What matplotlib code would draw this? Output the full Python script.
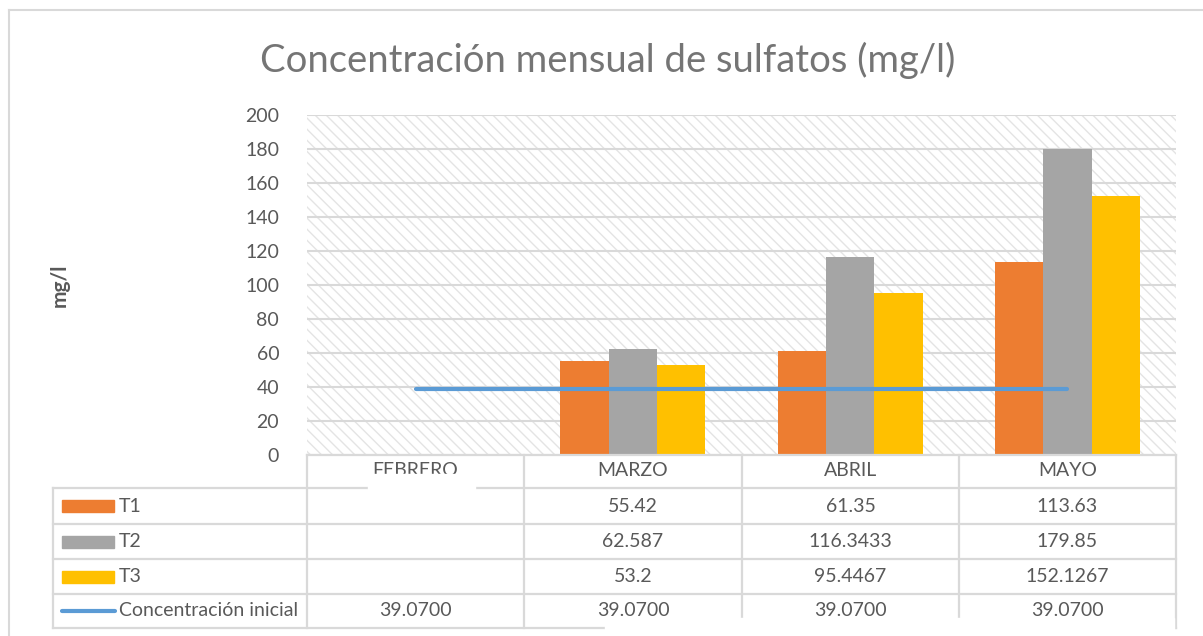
import numpy as np
import matplotlib
matplotlib.use("Agg")
import matplotlib.pyplot as plt
from matplotlib.lines import Line2D
from matplotlib.patches import Rectangle

# data
months = ["FEBRERO", "MARZO", "ABRIL", "MAYO"]
t1 = [np.nan, 55.42, 61.35, 113.63]
t2 = [np.nan, 62.587, 116.3433, 179.85]
t3 = [np.nan, 53.2, 95.4467, 152.1267]
inicial = [39.07, 39.07, 39.07, 39.07]
series_names = ["T1", "T2", "T3", "Concentración inicial"]
colors = ["#ED7D31", "#A5A5A5", "#FFC000", "#5B9BD5"]

W, H = 1203, 636
plt.rcParams['font.family'] = ['Lato', 'DejaVu Sans']
plt.rcParams['hatch.linewidth'] = 1.0
txt = "#595959"
grid = "#D9D9D9"

def fx(x):
    return x / W

def fy(y):
    return 1 - y / H

fig = plt.figure(figsize=(W / 100, H / 100), dpi=100)
x0, x1, ytop, ybot = 307, 1176, 115, 455
ax = fig.add_axes([fx(x0), fy(ybot), fx(x1) - fx(x0), fy(ytop) - fy(ybot)])

# hatched plot background
ax.add_patch(Rectangle((0, 0), 1, 1, transform=ax.transAxes, facecolor="white",
                       edgecolor="#E4E4E4", hatch="\\\\\\", lw=0, zorder=0.1))

x = np.arange(len(months))
w = 1 / 4.5
for i, vals in enumerate([t1, t2, t3]):
    ax.bar(x + (i - 1) * w, vals, w, color=colors[i], zorder=2)
ax.plot(x, inicial, color=colors[3], lw=3, solid_capstyle="round", zorder=3)

ax.set_xlim(-0.5, 3.5)
ax.set_ylim(0, 200)
ax.set_yticks(np.arange(0, 201, 20))
ax.set_xticks([])
ax.grid(axis="y", color=grid, lw=1.5)
ax.set_axisbelow(True)
for s in ax.spines.values():
    s.set_visible(False)
ax.tick_params(axis="y", length=0, pad=20, labelsize=14, labelcolor=txt)

fig.text(fx(608), fy(60), "Concentración mensual de sulfatos (mg/l)",
         ha="center", va="center", fontsize=27.5, color="#757575")
fig.text(fx(60), fy(285), "mg/l", rotation=90, ha="center", va="center",
         fontsize=15, fontweight="bold", color=txt)

# data table
def hline(y, xa, xb):
    fig.add_artist(Line2D([fx(xa), fx(xb)], [fy(y), fy(y)], color=grid, lw=1.6,
                          transform=fig.transFigure))

def vline(x, ya, yb):
    fig.add_artist(Line2D([fx(x), fx(x)], [fy(ya), fy(yb)], color=grid, lw=1.6,
                          transform=fig.transFigure))

col_x = [307, 524, 742, 959, 1176]
row_y = [455, 488, 524, 559, 594, 628]
hline(row_y[0], col_x[0], col_x[-1])
for y in row_y[1:]:
    hline(y, 53, col_x[-1])
for xx in col_x:
    vline(xx, row_y[0], row_y[-1])
vline(53, row_y[1], row_y[-1])

centers = [(col_x[k] + col_x[k + 1]) / 2 for k in range(4)]
for k, m in enumerate(months):
    fig.text(fx(centers[k]), fy(471), m, ha="center", va="center",
             fontsize=14, color=txt)

rows = [
    [("" if np.isnan(v) else f"{v}") for v in t1],
    [("" if np.isnan(v) else f"{v}") for v in t2],
    [("" if np.isnan(v) else f"{v}") for v in t3],
    [f"{v:.4f}" for v in inicial],
]
for r in range(4):
    yc = (row_y[r + 1] + row_y[r + 2]) / 2
    if r < 3:
        fig.add_artist(Rectangle((fx(62), fy(yc + 6)), fx(114) - fx(62), fy(yc - 6) - fy(yc + 6),
                                 color=colors[r], transform=fig.transFigure))
    else:
        fig.add_artist(Line2D([fx(62), fx(115)], [fy(yc), fy(yc)], color=colors[r], lw=3,
                              solid_capstyle="round", transform=fig.transFigure))
    fig.text(fx(119), fy(yc), series_names[r], ha="left", va="center",
             fontsize=14, color=txt)
    for k in range(4):
        fig.text(fx(centers[k]), fy(yc), rows[r][k], ha="center", va="center",
                 fontsize=14, color=txt)

# white patches clipping the screenshot
fig.add_artist(Rectangle((fx(368), fy(492)), fx(475) - fx(368), fy(474) - fy(492),
                         color="white", transform=fig.transFigure, zorder=5))
fig.add_artist(Rectangle((fx(605), fy(636)), fx(1174) - fx(605), fy(618) - fy(636),
                         color="white", transform=fig.transFigure, zorder=5))

# outer chart frame
fig.add_artist(Line2D([fx(9), fx(9)], [fy(10), fy(636)], color=grid, lw=1.5,
                      transform=fig.transFigure))
fig.add_artist(Line2D([fx(9), fx(1203)], [fy(10), fy(10)], color=grid, lw=1.5,
                      transform=fig.transFigure))

fig.savefig("out.png", dpi=100)
